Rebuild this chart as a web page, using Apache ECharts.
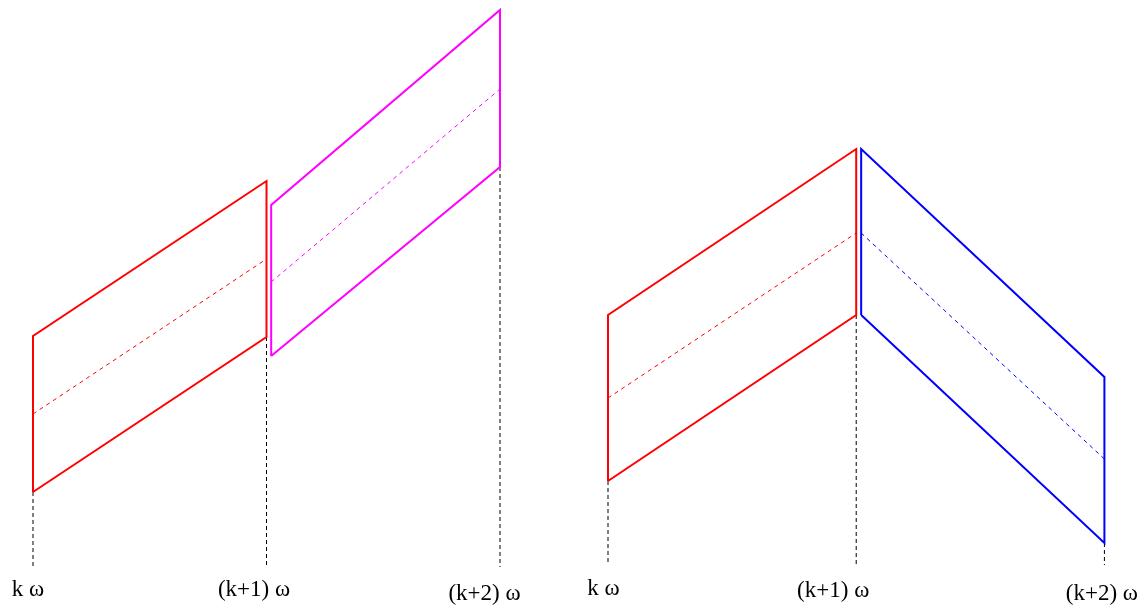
<!DOCTYPE html>
<html>
<head>
<meta charset="utf-8">
<title>Frequency bands</title>
<script src="https://cdn.jsdelivr.net/npm/echarts@6/dist/echarts.min.js"></script>
<style>
  html, body { margin: 0; padding: 0; background: #ffffff; }
  #chart { width: 1146px; height: 610px; }
</style>
</head>
<body>
<div id="chart"></div>
<script>
// Tick positions (multiples of the fundamental) and their labels
const xTicks = [0, 1, 2];
const tickLabels = ['k \u03c9', '(k+1) \u03c9', '(k+2) \u03c9'];

// Left panel: two bands that both rise
const leftRedX = [0, 1];
const leftRedUpper = [23.4, 38.9];
const leftRedMid = [15.6, 31.1];
const leftRedLower = [7.8, 23.3];

const leftMagentaX = [1.02, 2];
const leftMagentaUpper = [36.5, 56.0];
const leftMagentaMid = [28.8, 48.1];
const leftMagentaLower = [21.4, 40.3];

// Right panel: a rising band followed by a falling band
const rightRedX = [0, 1];
const rightRedUpper = [25.5, 42.1];
const rightRedMid = [17.2, 33.7];
const rightRedLower = [8.9, 25.5];

const rightBlueX = [1.02, 2];
const rightBlueUpper = [42.1, 19.3];
const rightBlueMid = [33.7, 11.1];
const rightBlueLower = [25.5, 2.7];

// Dashed guide lines: from the lowest edge at each tick down to the axis
const leftGuideTop = [7.8, 23.3, 40.3];
const leftGuideBottom = 0.3;
const rightGuideTop = [8.9, 25.5, 2.7];
const rightGuideBottom = 0.5;

const chart = echarts.init(document.getElementById('chart'), null, { renderer: 'canvas' });

function outline(xs, upper, lower) {
  return [
    [xs[0], lower[0]], [xs[0], upper[0]],
    [xs[1], upper[1]], [xs[1], lower[1]],
    [xs[0], lower[0]]
  ];
}
function midline(xs, mid) {
  return [[xs[0], mid[0]], [xs[1], mid[1]]];
}

function bandSeries(gridIndex, xs, upper, mid, lower, color) {
  return [
    {
      type: 'line', xAxisIndex: gridIndex, yAxisIndex: gridIndex,
      data: outline(xs, upper, lower), showSymbol: false, symbol: 'none',
      clip: false, silent: true, animation: false,
      lineStyle: { color: color, width: 2, join: 'miter' }
    },
    {
      type: 'line', xAxisIndex: gridIndex, yAxisIndex: gridIndex,
      data: midline(xs, mid), showSymbol: false, symbol: 'none',
      clip: false, silent: true, animation: false,
      lineStyle: { color: color, width: 1, type: [4, 4] }
    }
  ];
}

function guideSeries(gridIndex, tops, bottom) {
  return xTicks.map((x, i) => ({
    type: 'line', xAxisIndex: gridIndex, yAxisIndex: gridIndex,
    data: [[x, tops[i]], [x, bottom]], showSymbol: false, symbol: 'none',
    clip: false, silent: true, animation: false,
    lineStyle: { color: '#000000', width: 1, type: [4, 3] }
  }));
}

const labelFont = { fontFamily: 'Liberation Serif', fontSize: 23, color: '#000000', lineHeight: 23 };

// per-label offsets [top, right, bottom, left]
function richFor(paddings) {
  const rich = {};
  paddings.forEach((p, i) => { rich['t' + i] = Object.assign({ padding: p }, labelFont); });
  return rich;
}

function xAxisFor(gridIndex, paddings) {
  return {
    gridIndex: gridIndex, type: 'value', min: 0, max: 2, interval: 1,
    axisLine: { show: false }, axisTick: { show: false }, splitLine: { show: false },
    axisLabel: {
      margin: 0, showMinLabel: true, showMaxLabel: true, hideOverlap: false,
      formatter: (v) => {
        const i = xTicks.indexOf(Math.round(v));
        return i < 0 ? '' : '{t' + i + '|' + tickLabels[i] + '}';
      },
      rich: richFor(paddings)
    }
  };
}

function yAxisFor(gridIndex) {
  return {
    gridIndex: gridIndex, type: 'value', min: 0, max: 56,
    show: false, splitLine: { show: false }
  };
}

const option = {
  backgroundColor: '#ffffff',
  animation: false,
  grid: [
    { left: 33, top: 10, width: 467, height: 560, containLabel: false },
    { left: 608, top: 10, width: 497, height: 560, containLabel: false }
  ],
  xAxis: [
    xAxisFor(0, [[16, 10, 0, 0], [17, 25, 0, 0], [25, 31, 0, 0]]),
    xAxisFor(1, [[15, 9, 0, 0], [18, 46, 0, 0], [25, 5, 0, 0]])
  ],
  yAxis: [yAxisFor(0), yAxisFor(1)],
  series: [].concat(
    guideSeries(0, leftGuideTop, leftGuideBottom),
    guideSeries(1, rightGuideTop, rightGuideBottom),
    bandSeries(0, leftRedX, leftRedUpper, leftRedMid, leftRedLower, '#ff0000'),
    bandSeries(0, leftMagentaX, leftMagentaUpper, leftMagentaMid, leftMagentaLower, '#ff00ff'),
    bandSeries(1, rightRedX, rightRedUpper, rightRedMid, rightRedLower, '#ff0000'),
    bandSeries(1, rightBlueX, rightBlueUpper, rightBlueMid, rightBlueLower, '#0000ff')
  )
};

chart.setOption(option);
</script>
</body>
</html>
